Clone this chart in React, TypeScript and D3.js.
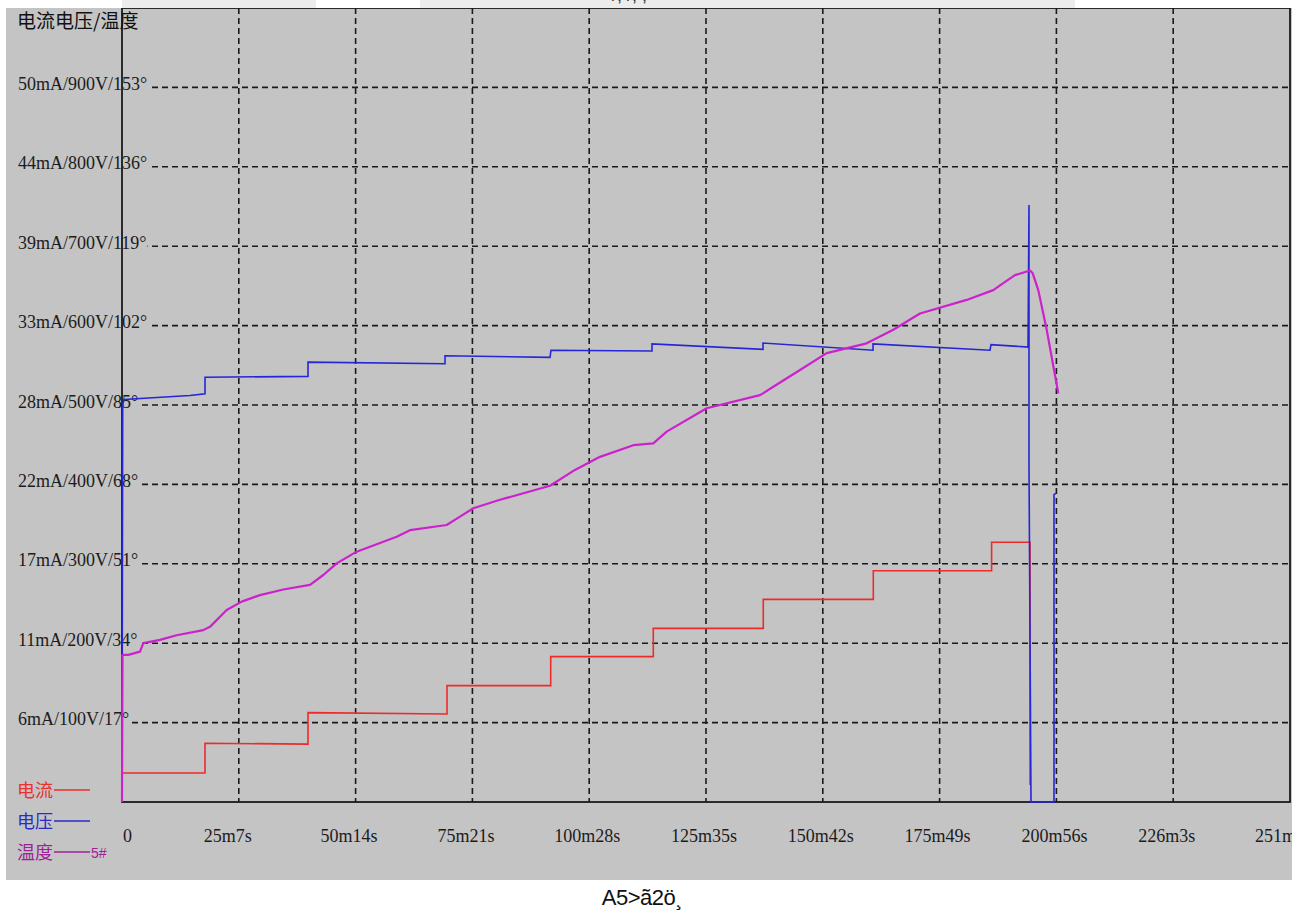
import React from 'react';
import * as d3 from 'd3';

// time axis in minutes, one grid step = 25m7s
const xTickLabels = ['0', '25m7s', '50m14s', '75m21s', '100m28s', '125m35s', '150m42s', '175m49s', '200m56s', '226m3s', '251m10s'];
const yTickLabels = ['6mA/100V/17°', '11mA/200V/34°', '17mA/300V/51°', '22mA/400V/68°', '28mA/500V/85°', '33mA/600V/102°', '39mA/700V/119°', '44mA/800V/136°', '50mA/900V/153°'];

// [minutes, V]
const voltageData: [number, number][] = [
  [0, 0], [0.15, 500], [0.43, 507], [9.25, 510], [14.6, 512], [17.85, 514],
  [17.85, 535], [40.0, 536], [40.0, 554], [69.46, 552], [69.46, 562],
  [92.04, 560], [92.25, 569], [113.97, 568], [113.97, 577], [137.84, 570],
  [137.84, 578], [161.5, 569], [161.5, 577], [186.66, 569], [186.87, 576],
  [194.83, 573], [195.04, 752], [195.04, 424], [195.47, 0], [200.42, 0],
  [200.42, 387], [200.85, 389],
];

// [minutes, mA]
const currentData: [number, number][] = [
  [0.15, 2.03], [17.85, 2.03], [17.85, 4.11], [40.0, 4.05], [40.0, 6.25],
  [69.89, 6.16], [69.89, 8.14], [92.19, 8.14], [92.19, 10.17], [114.25, 10.17],
  [114.25, 12.15], [137.9, 12.15], [137.9, 14.18], [161.56, 14.18], [161.56, 16.18],
  [187.0, 16.18], [187.0, 18.17], [195.26, 18.17], [195.26, 1.19],
];

// [minutes, °]
const temperatureData: [number, number][] = [
  [0, 0], [0.1, 31.5], [1.35, 31.5], [3.87, 32.2], [4.58, 34.0], [8.17, 34.7],
  [11.76, 35.7], [17.48, 36.8], [18.92, 37.5], [22.51, 41.1], [25.74, 42.9],
  [29.68, 44.3], [34.69, 45.5], [40.43, 46.5], [43.29, 48.6], [46.17, 51.1],
  [50.47, 53.6], [59.07, 56.8], [61.93, 58.2], [69.82, 59.3], [72.68, 61.1],
  [75.54, 62.9], [81.29, 64.7], [92.04, 67.7], [97.41, 71.1], [102.79, 73.9],
  [109.95, 76.4], [114.25, 76.8], [117.13, 79.3], [125.73, 84.3], [137.2, 87.1],
  [140.06, 88.9], [145.8, 92.5], [151.54, 96.1], [160.14, 98.2], [165.86, 101.1],
  [171.6, 104.6], [181.64, 107.5], [187.36, 109.6], [189.51, 111.1], [192.03, 112.8],
  [195.26, 113.8], [195.84, 113.2], [197.04, 109.6], [198.85, 101.1], [201.34, 87.5],
];

const legendItems = [
  { label: '电流', color: '#e8302e', suffix: '' },
  { label: '电压', color: '#2a2ac8', suffix: '' },
  { label: '温度', color: '#a0209c', suffix: '5#' },
];

const App: React.FC = () => {
  const svgRef = React.useRef<SVGSVGElement>(null);

  React.useEffect(() => {
    if (!svgRef.current) return;
    const svg = d3.select(svgRef.current);
    svg.selectAll('*').remove();

    const left = 122, right = 1290, top = 8, bottom = 802;
    const bg = '#c4c4c4';
    const serif = '"Liberation Serif", "Times New Roman", serif';
    const cjk = '"Noto Sans CJK SC", sans-serif';

    const x = d3.scaleLinear().domain([0, 251.1667]).range([left, right]);
    const yV = d3.scaleLinear().domain([0, 1000]).range([bottom, top]);
    const yI = d3.scaleLinear().domain([0, 500 / 9]).range([bottom, top]);
    const yT = d3.scaleLinear().domain([0, 170]).range([bottom, top]);

    svg.append('rect').attr('width', 1308).attr('height', 914).attr('fill', '#fff');

    // faint strips above the frame
    svg.append('rect').attr('x', 122).attr('y', 0).attr('width', 194).attr('height', 8).attr('fill', '#ececec');
    svg.append('rect').attr('x', 420).attr('y', 0).attr('width', 655).attr('height', 8).attr('fill', '#ececec');
    svg.append('text').attr('x', 612).attr('y', 1).style('font-family', '"Liberation Sans", sans-serif')
      .style('font-size', '18px').attr('fill', '#333').text('/,  /,  ,');

    svg.append('defs').append('clipPath').attr('id', 'panel')
      .append('rect').attr('x', 6).attr('y', 8).attr('width', 1286).attr('height', 872);

    const g = svg.append('g').attr('clip-path', 'url(#panel)');
    g.append('rect').attr('x', 6).attr('y', 8).attr('width', 1286).attr('height', 872).attr('fill', bg);

    const step = 251.1667 / 10;
    const gridX = d3.range(1, 10).map(i => x(i * step));

    // vertical grid
    gridX.forEach(gx => {
      g.append('line').attr('x1', gx).attr('x2', gx).attr('y1', top).attr('y2', bottom)
        .attr('stroke', '#1a1a1a').attr('stroke-width', 1.6).attr('stroke-dasharray', '6,4');
    });

    // horizontal grid + labels
    yTickLabels.forEach((lab, i) => {
      const gy = yV((i + 1) * 100);
      g.append('line').attr('x1', left).attr('x2', right).attr('y1', gy).attr('y2', gy)
        .attr('stroke', '#1a1a1a').attr('stroke-width', 1.6).attr('stroke-dasharray', '6,4');
      const t = g.append('text').attr('x', 18).attr('y', gy + 2.5)
        .style('font-family', serif).style('font-size', '18px').attr('fill', '#1c1c1c').text(lab);
      const bb = (t.node() as SVGTextElement).getBBox();
      g.insert('rect', () => t.node())
        .attr('x', bb.x).attr('y', gy - 2).attr('width', bb.width + 1).attr('height', 4).attr('fill', bg);
    });

    // frame
    g.append('rect').attr('x', left).attr('y', top).attr('width', right - left).attr('height', bottom - top)
      .attr('fill', 'none').attr('stroke', '#1a1a1a').attr('stroke-width', 1.8);

    // title
    g.append('text').attr('x', 17).attr('y', 27.5).style('font-family', cjk).style('font-size', '19px')
      .attr('fill', '#111').text('电流电压/温度');

    // x labels
    xTickLabels.forEach((lab, i) => {
      const px = i === 0 ? left + 1 : x(i * step) - 35;
      g.append('text').attr('x', px).attr('y', 842).style('font-family', serif).style('font-size', '18px')
        .attr('fill', '#1c1c1c').text(lab);
    });

    // series
    const lineV = d3.line<[number, number]>().x(d => x(d[0])).y(d => yV(d[1]));
    const lineI = d3.line<[number, number]>().x(d => x(d[0])).y(d => yI(d[1]));
    const lineT = d3.line<[number, number]>().x(d => x(d[0])).y(d => yT(d[1]));

    g.append('path').attr('d', lineI(currentData)).attr('fill', 'none').attr('stroke', '#ee2a2a').attr('stroke-width', 1.6);
    g.append('path').attr('d', lineV(voltageData)).attr('fill', 'none').attr('stroke', '#2626d6').attr('stroke-width', 1.6);
    g.append('path').attr('d', lineT(temperatureData)).attr('fill', 'none').attr('stroke', '#cc22cc').attr('stroke-width', 2.2)
      .attr('stroke-linejoin', 'round');

    // legend
    legendItems.forEach((item, i) => {
      const base = 797 + i * 31;
      g.append('text').attr('x', 17).attr('y', base).style('font-family', cjk)
        .style('font-size', '18px').attr('fill', item.color).text(item.label);
      g.append('line').attr('x1', 54).attr('x2', 90).attr('y1', base - 7).attr('y2', base - 7)
        .attr('stroke', item.color).attr('stroke-width', 1.3);
      if (item.suffix) {
        g.append('text').attr('x', 91).attr('y', base - 1).style('font-family', '"Liberation Sans", sans-serif')
          .style('font-size', '14px').attr('fill', item.color).text(item.suffix);
      }
    });

    // caption under the panel
    svg.append('text').attr('x', 642).attr('y', 905).attr('text-anchor', 'middle')
      .style('font-family', '"Liberation Sans", Arial, sans-serif').style('font-size', '22px')
      .style('letter-spacing', '-0.5px').attr('fill', '#111').text('A5>ã2ö¸');
  }, []);

  return (
    <svg ref={svgRef} width={1308} height={914} viewBox="0 0 1308 914"
      style={{ position: 'absolute', left: 0, top: 0 }} />
  );
};

export default App;
